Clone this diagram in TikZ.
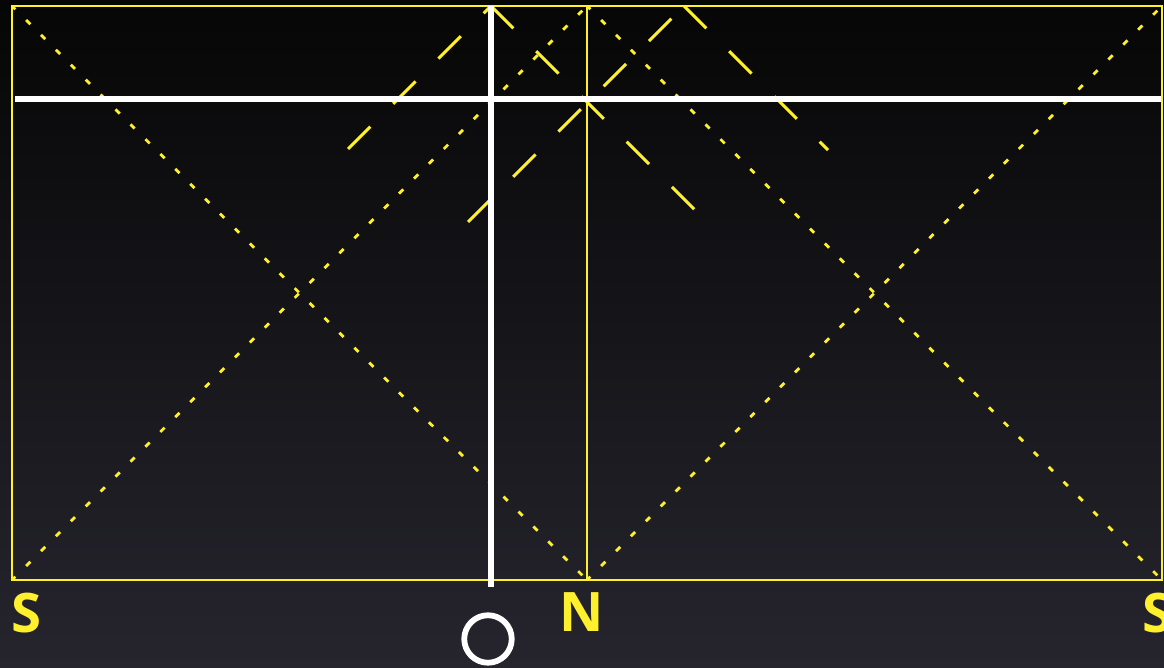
\documentclass[tikz,border=0pt]{standalone}
\usepackage{fontspec}
\setsansfont{Open Sans}
\usepackage{xcolor}
\usetikzlibrary{calc, positioning}

\definecolor{lineyellow}{RGB}{255,240,45}
\definecolor{bgtop}{RGB}{6,6,6}
\definecolor{bgbottom}{RGB}{38,37,46}

\begin{document}
\begin{tikzpicture}[x=0.02cm, y=-0.02cm,
    yline/.style={lineyellow, line width=1.6pt},
    dotline/.style={lineyellow, line width=1.6pt, dash pattern=on 3.4pt off 8.6pt, dash phase=0.7pt},
    dashline/.style={lineyellow, line width=1.7pt, dash pattern=on 18pt off 18.4pt},
    wline/.style={white, line width=3pt},
    lbl/.style={font=\sffamily\bfseries\fontsize{31}{31}\selectfont, text=lineyellow, inner sep=0pt}]

    % 1. Nen toi
    \fill[top color=bgtop, bottom color=bgbottom] (0,0) rectangle (1164,668);
    \useasboundingbox (0,0) rectangle (1164,668);

    % 2. Cac diem goc
    \coordinate (TL) at (12,6);
    \coordinate (TR) at (1162,6);
    \coordinate (BL) at (12,580);
    \coordinate (BR) at (1162,580);
    \coordinate (NT) at (587,6);
    \coordinate (NB) at (587,580);
    \coordinate (OT) at (491,6);
    \coordinate (OB) at (491,587);
    \coordinate (HL) at (15,99);
    \coordinate (HR) at (1161,99);
    \coordinate (A1) at (348,149);
    \coordinate (B2) at (695,210);
    \coordinate (C1) at (468,222);
    \coordinate (D1) at (684,6);
    \coordinate (D2) at (828,150);

    % 3. Khung vang va duong cheo cham
    \draw[yline] (TL) rectangle (BR);
    \draw[yline] (NT) -- (NB);
    \foreach \a/\b in {TL/NB, BL/NT, NT/BR, NB/TR} {
        \draw[dotline] (\a) -- (\b);
    }

    % 4. Cac tia net dut
    \draw[dashline] (A1) -- (OT);
    \draw[dashline] (OT) -- (B2);
    \draw[dashline] (C1) -- (D1);
    \draw[dashline] (D1) -- (D2);

    % 5. Duong trang
    \draw[wline] (OT) -- (OB);
    \draw[wline] (HL) -- (HR);

    % 6. Nhan
    \node[lbl] (S1) at (26,613) {S};
    \node[lbl] (N) at (582,612) {N};
    \node[lbl, anchor=west] (S2) at (1142,613) {S};
    \node[circle, draw=white, line width=3.3pt, minimum size=0.95cm, inner sep=0pt] (O) at (488,639) {};

\end{tikzpicture}
\end{document}
